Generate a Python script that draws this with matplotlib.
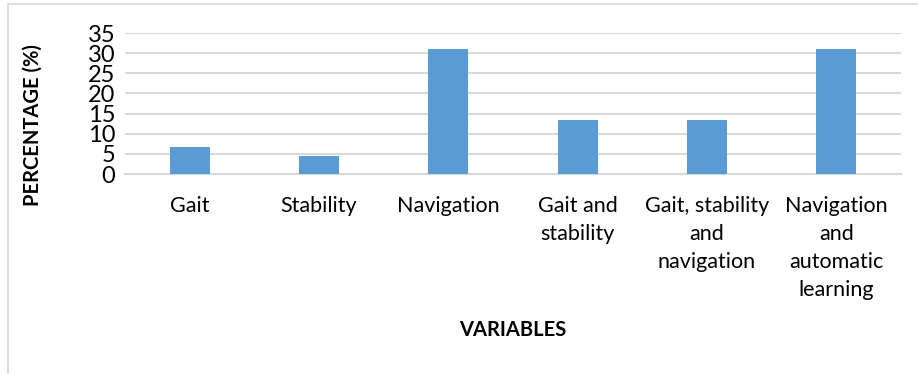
import matplotlib
matplotlib.use("Agg")
import matplotlib.pyplot as plt
from matplotlib.patches import Rectangle

# data
categories = ["Gait", "Stability", "Navigation", "Gait and\nstability",
              "Gait, stability\nand\nnavigation", "Navigation\nand\nautomatic\nlearning"]
percentages = [6.67, 4.44, 31.11, 13.33, 13.33, 31.11]
y_ticks = [0, 5, 10, 15, 20, 25, 30, 35]

plt.rcParams['font.family'] = ['Lato', 'DejaVu Sans']

fig = plt.figure(figsize=(9.18, 3.74), dpi=100)
# light outer frame like the office chart box
fig.patches.append(Rectangle((8 / 918, -0.1), 1.2, (374 - 4) / 374 + 0.1,
                             transform=fig.transFigure, fill=False,
                             edgecolor="#d9d9d9", linewidth=1.2))

ax = fig.add_axes([125 / 918, 1 - 174 / 374, (901 - 125) / 918, (174 - 33) / 374])
x = range(len(categories))
ax.bar(x, percentages, width=0.31, color="#5b9bd5", zorder=3)

ax.set_ylim(0, 35)
ax.set_xlim(-0.5, len(categories) - 0.5)
ax.set_yticks(y_ticks)
ax.set_xticks(list(x))
ax.set_xticklabels(categories, fontsize=15.5, linespacing=1.5, va="top")
ax.tick_params(axis="y", length=0, pad=7, labelsize=17)
ax.tick_params(axis="x", length=0, pad=16)
ax.grid(axis="y", color="#d9d9d9", linewidth=1.5, zorder=0)
for side in ["top", "right", "left"]:
    ax.spines[side].set_visible(False)
ax.spines["bottom"].set_color("#d9d9d9")
ax.spines["bottom"].set_linewidth(1.5)

fig.text(33 / 918, 1 - 125 / 374, "PERCENTAGE (%)", rotation=90, fontsize=14.5,
         fontweight="bold", ha="center", va="center")
fig.text(513 / 918, 1 - 330 / 374, "VARIABLES", fontsize=14.5,
         fontweight="bold", ha="center", va="center")

fig.savefig("out.png", dpi=100)
